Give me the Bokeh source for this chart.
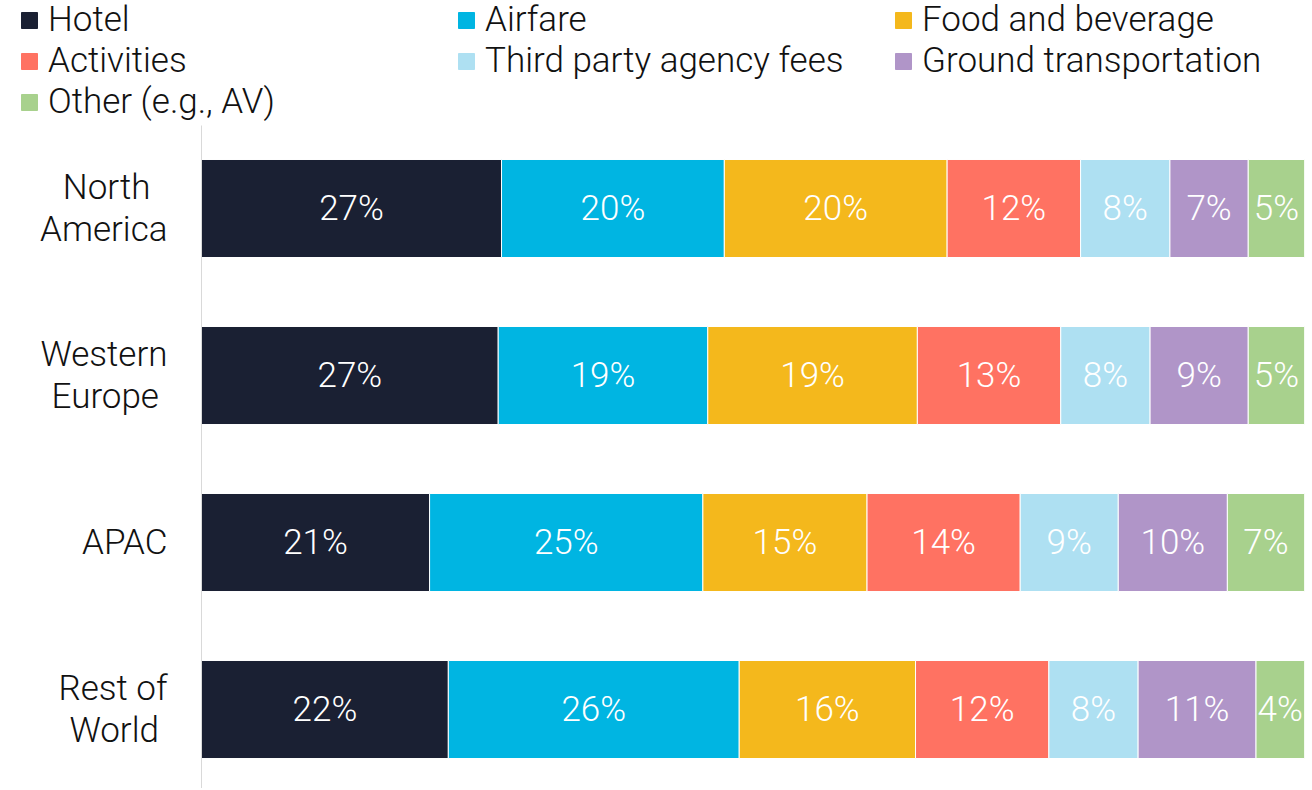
from bokeh.plotting import figure
from bokeh.layouts import column, row
from bokeh.models import Range1d, FixedTicker, Legend, LegendItem, ColumnDataSource
from bokeh.embed import file_html
from bokeh.resources import INLINE
from bokeh.core.properties import value

# ---- data ----
regions = ["North America", "Western Europe", "APAC", "Rest of World"]
NB = "\u00a0"
region_labels = ["North" + NB * 2 + "\nAmerica", "Western\nEurope" + NB,
                 "APAC", "Rest of\nWorld" + NB]
categories = ["Hotel", "Airfare", "Food and beverage", "Activities",
              "Third party agency fees", "Ground transportation", "Other (e.g., AV)"]
colors = ["#1a2033", "#00b5e2", "#f4b81c", "#ff7262", "#aee0f2", "#b095c8", "#a8d18d"]

hotel = [27.2, 26.9, 20.7, 22.4]
airfare = [20.2, 19.0, 24.8, 26.4]
food_beverage = [20.2, 19.0, 14.9, 16.0]
activities = [12.1, 13.0, 13.9, 12.1]
third_party = [8.1, 8.1, 8.9, 8.1]
ground = [7.1, 8.9, 9.9, 10.7]
other = [5.1, 5.1, 7.0, 4.4]

series = [hotel, airfare, food_beverage, activities, third_party, ground, other]
FONT = "Roboto Light"

# normalize each region to 100%
totals = [sum(s[i] for s in series) for i in range(len(regions))]
norm = [[s[i] / totals[i] * 100 for i in range(len(regions))] for s in series]

ypos = list(range(len(regions) - 1, -1, -1))  # top to bottom
data = {"y": ypos}
for cat, vals in zip(categories, norm):
    data[cat] = vals
src = ColumnDataSource(data)

# label positions
lx, ly, lt = [], [], []
for i in range(len(regions)):
    left = 0.0
    for k, s in enumerate(series):
        w = norm[k][i]
        lx.append(left + w / 2)
        ly.append(ypos[i])
        lt.append(f"{round(s[i])}%")
        left += w
lsrc = ColumnDataSource(dict(x=lx, y=ly, text=lt))

W = 1308
LEG_H = 125
MAIN_H = 663

# ---- legend figure ----
lf = figure(width=W, height=LEG_H, output_backend="svg", toolbar_location=None,
            x_range=Range1d(0, 1), y_range=Range1d(0, 1),
            min_border=0, min_border_left=0, min_border_right=0,
            min_border_top=0, min_border_bottom=0)
lf.axis.visible = False
lf.grid.visible = False
lf.outline_line_color = None
# swatch sources kept outside the visible range (legend keys only)
dummy = ColumnDataSource(dict(y=[-10], left=[0], right=[1]))
dummies = [lf.hbar(y="y", left="left", right="right", height=0.5, color=c,
                   source=dummy) for c in colors]
items = [LegendItem(label=c, renderers=[r]) for c, r in zip(categories, dummies)]
legend = Legend(items=items, orientation="horizontal", ncols=3,
                location=(19, 3), padding=0, margin=0, spacing=-4,
                glyph_width=20, glyph_height=20, label_height=20,
                label_width=408, label_standoff=9,
                label_text_font=FONT, label_text_font_size="35px",
                label_text_color="#111111",
                border_line_color=None, background_fill_alpha=0)
lf.add_layout(legend, "center")

# ---- main chart ----
p = figure(width=W, height=MAIN_H, output_backend="svg", toolbar_location=None,
           x_range=Range1d(0, 100), y_range=Range1d(-0.473, 3.497),
           min_border_left=201, min_border_right=4, min_border_top=0,
           min_border_bottom=0)

p.hbar_stack(categories, y="y", height=0.587, color=colors, source=src,
             line_color="white", line_width=1)

p.text(x="x", y="y", text="text", source=lsrc, text_align="center",
       text_baseline="middle", text_color="white",
       text_font=value(FONT), text_font_size="35px")

p.xaxis.visible = False
p.xgrid.visible = False
p.ygrid.visible = False
p.outline_line_color = None

yax = p.yaxis[0]
yax.ticker = FixedTicker(ticks=ypos)
yax.major_label_overrides = {y: lab for y, lab in zip(ypos, region_labels)}
yax.major_tick_line_color = None
yax.minor_tick_line_color = None
yax.axis_line_color = "#d9d9d9"
yax.axis_line_width = 1
yax.major_label_standoff = 28
yax.major_label_text_font = FONT
yax.major_label_text_font_size = "35px"
yax.major_label_text_line_height = 1.02
yax.major_label_text_color = "#111111"

layout = column(row(lf), p, spacing=0)
open("out.html", "w").write(file_html(layout, INLINE))
